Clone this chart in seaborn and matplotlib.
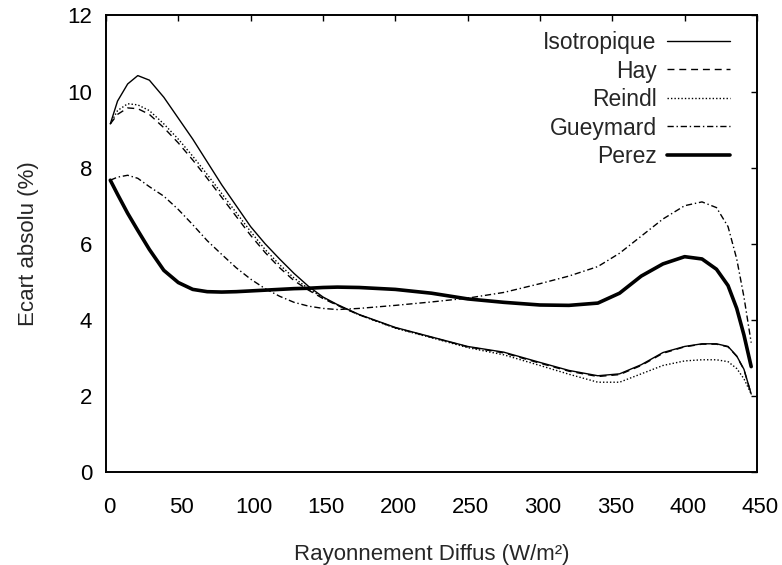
import matplotlib
matplotlib.use("Agg")
import matplotlib.pyplot as plt
import matplotlib.transforms as mtransforms
import seaborn as sns
import pandas as pd

sns.set_theme(style="white")
plt.rcParams['font.family'] = ['Liberation Sans', 'DejaVu Sans']

x = [3, 8, 15, 22, 30, 40, 50, 60, 70, 80, 90, 100, 110, 120, 130, 140, 150, 160, 175,
     200, 225, 250, 275, 300, 320, 340, 355, 370, 385, 400, 412, 422, 430, 436, 441, 446]

isotropique = [9.15, 9.75, 10.2, 10.42, 10.3, 9.85, 9.3, 8.75, 8.15, 7.55, 7.0, 6.45, 6.0, 5.6,
               5.22, 4.88, 4.6, 4.4, 4.14, 3.8, 3.55, 3.3, 3.15, 2.88, 2.67, 2.53, 2.58, 2.82,
               3.14, 3.3, 3.37, 3.37, 3.3, 3.05, 2.7, 2.05]
hay = [9.15, 9.4, 9.57, 9.55, 9.4, 9.05, 8.65, 8.2, 7.72, 7.22, 6.72, 6.22, 5.77, 5.37, 5.03,
       4.78, 4.56, 4.38, 4.13, 3.79, 3.54, 3.29, 3.13, 2.86, 2.65, 2.51, 2.56, 2.8, 3.12, 3.29,
       3.36, 3.36, 3.29, 3.04, 2.69, 2.05]
reindl = [9.15, 9.5, 9.68, 9.65, 9.5, 9.15, 8.75, 8.3, 7.82, 7.32, 6.82, 6.32, 5.85, 5.45, 5.1,
          4.82, 4.58, 4.39, 4.13, 3.78, 3.53, 3.27, 3.08, 2.8, 2.57, 2.36, 2.36, 2.58, 2.8, 2.92,
          2.95, 2.95, 2.9, 2.72, 2.45, 2.05]
gueymard = [7.67, 7.75, 7.8, 7.72, 7.5, 7.25, 6.9, 6.5, 6.08, 5.72, 5.37, 5.07, 4.82, 4.62, 4.46,
            4.36, 4.3, 4.27, 4.3, 4.38, 4.47, 4.57, 4.72, 4.95, 5.15, 5.4, 5.75, 6.2, 6.65, 7.0,
            7.1, 6.95, 6.45, 5.6, 4.6, 3.4]
perez = [7.67, 7.3, 6.8, 6.35, 5.85, 5.3, 4.98, 4.8, 4.74, 4.73, 4.74, 4.76, 4.78, 4.8, 4.82,
         4.83, 4.85, 4.86, 4.85, 4.8, 4.7, 4.55, 4.46, 4.39, 4.38, 4.44, 4.7, 5.15, 5.47, 5.66,
         5.6, 5.33, 4.9, 4.3, 3.6, 2.77]

series_names = ["Isotropique", "Hay", "Reindl", "Gueymard", "Perez"]
series_values = [isotropique, hay, reindl, gueymard, perez]

xticks = [0, 50, 100, 150, 200, 250, 300, 350, 400, 450]
yticks = [0, 2, 4, 6, 8, 10, 12]

styles = {
    "Isotropique": dict(lw=1.0, ls="-"),
    "Hay": dict(lw=1.0, ls=(0, (5, 3.5))),
    "Reindl": dict(lw=1.0, ls=(0, (1, 1.5))),
    "Gueymard": dict(lw=1.0, ls=(0, (4.5, 2, 1, 2))),
    "Perez": dict(lw=2.6, ls="-"),
}

FS = 16
FS_LEG = 16.5

fig = plt.figure(figsize=(7.82, 5.65), dpi=100)
ax = fig.add_axes([0.1355, 0.1646, 0.8325, 0.808])

for name, vals in zip(series_names, series_values):
    df = pd.DataFrame({"x": x, "y": vals})
    st = styles[name]
    sns.lineplot(data=df, x="x", y="y", ax=ax, color="black", linewidth=st["lw"],
                 linestyle=st["ls"], label=name, sort=False)

ax.set_xlim(0, 450)
ax.set_ylim(0, 12)
ax.set_xticks(xticks)
ax.set_yticks(yticks)
ax.set_xticklabels([str(v) for v in xticks])
ax.set_yticklabels([str(v) for v in yticks])
ax.tick_params(axis="both", direction="in", length=4.5, width=1, colors="black",
               top=True, right=True, labelsize=FS)
ax.tick_params(axis="x", pad=18)
ax.tick_params(axis="y", pad=10)
for s in ax.spines.values():
    s.set_visible(True)
    s.set_color("black")
    s.set_linewidth(1.4)

ax.set_xlabel("Rayonnement Diffus (W/m²)", fontsize=FS, labelpad=19)
ax.set_ylabel("Ecart absolu (%)", fontsize=FS, labelpad=20)

leg = ax.legend(loc="upper right", frameon=False, markerfirst=False, fontsize=FS_LEG,
                handlelength=2.75, handletextpad=0.45, labelspacing=0.24,
                borderpad=0, borderaxespad=0, bbox_to_anchor=(0.9585, 0.966))

offset = mtransforms.ScaledTranslation(3 / 100, 0, fig.dpi_scale_trans)
for lab in ax.get_xticklabels():
    lab.set_transform(lab.get_transform() + offset)

fig.savefig("out.png", dpi=100)
